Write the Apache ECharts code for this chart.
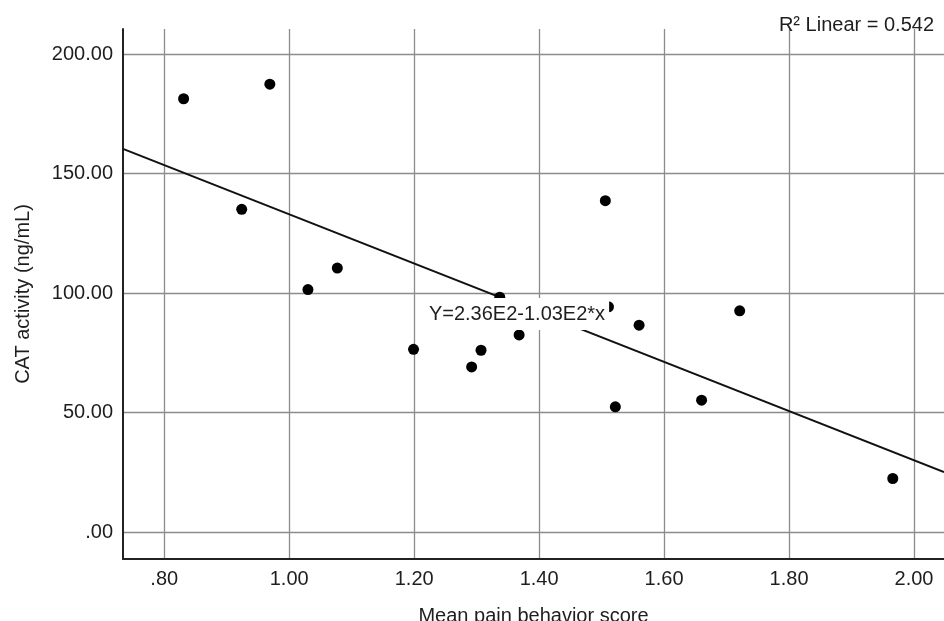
<!DOCTYPE html>
<html>
<head>
<meta charset="utf-8">
<script src="https://cdn.jsdelivr.net/npm/echarts@6/dist/echarts.min.js"></script>
<style>
  html, body { margin: 0; padding: 0; background: #fff; }
  #chart { width: 944px; height: 621px; }
</style>
</head>
<body>
<div id="chart"></div>
<script>
// points
var painScore = [0.831, 0.969, 0.924, 1.030, 1.077, 1.199, 1.292, 1.307, 1.368, 1.337, 1.506, 1.511, 1.522, 1.560, 1.660, 1.721, 1.966];
var catActivity = [181.4, 187.5, 135.1, 101.5, 110.5, 76.5, 69.1, 76.1, 82.5, 98.3, 138.7, 94.3, 52.4, 86.6, 55.2, 92.6, 22.4];

// fit line, as printed on the chart
var intercept = 236;
var slope = -103;
var eqText = "Y=2.36E2-1.03E2*x";
var r2Text = "R\u00b2 Linear = 0.542";

var xMin = 0.734, xMax = 2.048;
var yMin = -11.3, yMax = 210.6;

var font = "'Liberation Sans', Arial, sans-serif";
var ink = "#1e1e1e";

var points = painScore.map(function (x, i) { return [x, catActivity[i]]; });
var fitLine = [[xMin, intercept + slope * xMin], [xMax, intercept + slope * xMax]];

function fmt(v) {
  var s = v.toFixed(2);
  return s.replace(/^0/, "");
}

var chart = echarts.init(document.getElementById("chart"));
var option = {
  animation: false,
  backgroundColor: "#fff",
  grid: { left: 123, top: 29, right: 0, bottom: 62, containLabel: false, outerBoundsMode: "none" },
  xAxis: {
    type: "value",
    min: xMin,
    max: xMax,
    splitNumber: 6,
    name: "Mean pain behavior score",
    nameLocation: "middle",
    nameGap: 47,
    nameTextStyle: { fontFamily: font, fontSize: 20, color: ink },
    axisLine: { show: true, onZero: false, lineStyle: { color: "#222", width: 2 } },
    axisTick: { show: false },
    axisLabel: {
      showMinLabel: false,
      showMaxLabel: false,
      margin: 10,
      fontFamily: font,
      fontSize: 20,
      color: ink,
      formatter: fmt
    },
    splitLine: { show: true, showMinLine: false, showMaxLine: false, lineStyle: { color: "#8c8c8c", width: 1.3 } }
  },
  yAxis: {
    type: "value",
    min: yMin,
    max: yMax,
    splitNumber: 4,
    name: "CAT activity (ng/mL)",
    nameLocation: "middle",
    nameGap: 90,
    nameTextStyle: { fontFamily: font, fontSize: 20, color: ink },
    axisLine: { show: true, onZero: false, lineStyle: { color: "#222", width: 2 } },
    axisTick: { show: false },
    axisLabel: {
      showMinLabel: false,
      showMaxLabel: false,
      margin: 10,
      fontFamily: font,
      fontSize: 20,
      color: ink,
      formatter: fmt
    },
    splitLine: { show: true, showMinLine: false, showMaxLine: false, lineStyle: { color: "#8c8c8c", width: 1.3 } }
  },
  series: [
    {
      type: "line",
      data: fitLine,
      symbol: "none",
      lineStyle: { color: "#111", width: 2 },
      z: 3
    },
    {
      type: "scatter",
      data: points,
      symbolSize: 11,
      itemStyle: { color: "#000", opacity: 1 },
      z: 4
    }
  ],
  graphic: [
    {
      type: "text",
      z: 100,
      style: {
        text: eqText,
        x: 517,
        y: 314,
        align: "center",
        verticalAlign: "middle",
        fontFamily: font,
        fontSize: 20,
        fill: ink,
        backgroundColor: "#fff",
        padding: [6, 4]
      }
    },
    {
      type: "text",
      z: 100,
      style: {
        text: r2Text,
        x: 934,
        y: 25,
        align: "right",
        verticalAlign: "middle",
        fontFamily: font,
        fontSize: 20,
        fill: ink
      }
    }
  ]
};
option && chart.setOption(option);
</script>
</body>
</html>
